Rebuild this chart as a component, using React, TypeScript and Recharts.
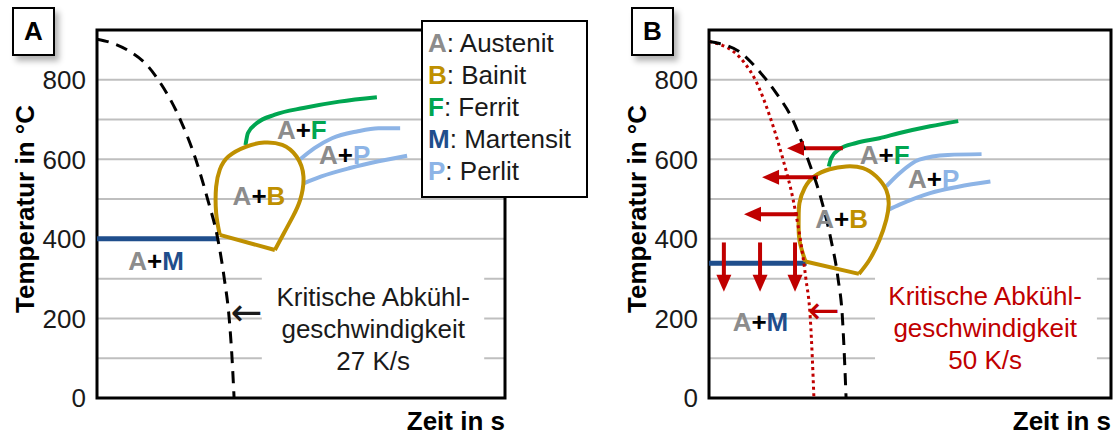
import React from 'react';
import {
  LineChart,
  Line,
  XAxis,
  YAxis,
  CartesianGrid,
  ReferenceArea,
  ReferenceDot,
  Label,
} from 'recharts';

const FONT = '"Liberation Sans", Arial, sans-serif';

// shared axis setup
const tempTicks = [0, 200, 400, 600, 800];
const gridTemps = [100, 200, 300, 400, 500, 600, 700, 800];
const tempMax = 925;
const timeMax = 100;

// phase colours
const phaseColors: Record<string, string> = {
  A: '#8c8c8c',
  B: '#bf9000',
  F: '#00a651',
  M: '#1f4e8c',
  P: '#8db4e6',
};
const legendItems = [
  { key: 'A', name: 'Austenit' },
  { key: 'B', name: 'Bainit' },
  { key: 'F', name: 'Ferrit' },
  { key: 'M', name: 'Martensit' },
  { key: 'P', name: 'Perlit' },
];

// ---------- panel A (27 K/s) ----------
const coolingA = [
  { x: 0, y: 902 }, { x: 3.5, y: 893 }, { x: 7.4, y: 875 }, { x: 12.4, y: 835 },
  { x: 15, y: 800 }, { x: 20.4, y: 700 }, { x: 24.2, y: 600 }, { x: 27.1, y: 500 },
  { x: 29.6, y: 400 }, { x: 31.2, y: 300 }, { x: 32.4, y: 200 }, { x: 33.1, y: 100 },
  { x: 33.6, y: 0 },
];
const bainiteA = [
  { x: 30.1, y: 410 }, { x: 29.2, y: 465 }, { x: 29.2, y: 531 }, { x: 30.1, y: 574 },
  { x: 32.2, y: 607 }, { x: 36.6, y: 632 }, { x: 41.0, y: 642 }, { x: 45.4, y: 636 },
  { x: 48.9, y: 607 }, { x: 50.6, y: 557 }, { x: 49.8, y: 498 }, { x: 48.0, y: 456 },
  { x: 45.8, y: 414 }, { x: 43.6, y: 372 },
];
const bainiteBaseA = [{ x: 43.6, y: 372 }, { x: 30.1, y: 410 }];
const ferriteA = [
  { x: 36.4, y: 636 }, { x: 37.0, y: 666 }, { x: 39.2, y: 691 }, { x: 43.6, y: 712 },
  { x: 50.6, y: 729 }, { x: 59.4, y: 745 }, { x: 68.6, y: 756 },
];
const pearliteStartA = [
  { x: 49.8, y: 600 }, { x: 53.3, y: 628 }, { x: 57.6, y: 653 }, { x: 63.7, y: 670 },
  { x: 69.0, y: 678 }, { x: 74.3, y: 678 },
];
const pearliteEndA = [
  { x: 50.8, y: 540 }, { x: 55.0, y: 557 }, { x: 62.0, y: 578 }, { x: 69.0, y: 595 },
  { x: 76.0, y: 609 },
];
const martensiteA = [{ x: 0, y: 400 }, { x: 29.6, y: 400 }];
const labelsA = [
  { x: 50.2, y: 674, phase: 'F' },
  { x: 60.7, y: 611, phase: 'P' },
  { x: 39.7, y: 508, phase: 'B' },
  { x: 14.5, y: 345, phase: 'M' },
];

// ---------- panel B (50 K/s) ----------
const coolingB = [
  { x: 0, y: 896 }, { x: 2.6, y: 891 }, { x: 7.6, y: 870 }, { x: 12.7, y: 819 },
  { x: 16.9, y: 764 }, { x: 20.8, y: 700 }, { x: 24.6, y: 600 }, { x: 27.9, y: 500 },
  { x: 30.3, y: 400 }, { x: 32.1, y: 300 }, { x: 33.2, y: 200 }, { x: 33.7, y: 100 },
  { x: 34.1, y: 0 },
];
const criticalB = [
  { x: 0, y: 896 }, { x: 3.4, y: 886 }, { x: 6.2, y: 870 }, { x: 9, y: 840 },
  { x: 11.5, y: 800 }, { x: 15.4, y: 700 }, { x: 18.4, y: 600 }, { x: 20.9, y: 500 },
  { x: 22.7, y: 400 }, { x: 24.1, y: 300 }, { x: 25.2, y: 200 }, { x: 25.7, y: 100 },
  { x: 26.1, y: 0 },
];
const bainiteB = [
  { x: 24.0, y: 343 }, { x: 22.5, y: 397 }, { x: 22.3, y: 448 }, { x: 22.5, y: 490 },
  { x: 23.8, y: 528 }, { x: 26.2, y: 557 }, { x: 30.0, y: 575 }, { x: 34.1, y: 582 },
  { x: 38.3, y: 578 }, { x: 41.6, y: 557 }, { x: 44.1, y: 523 }, { x: 44.7, y: 486 },
  { x: 44.1, y: 448 }, { x: 42.4, y: 397 }, { x: 39.9, y: 347 }, { x: 37.3, y: 312 },
];
const bainiteBaseB = [{ x: 37.3, y: 312 }, { x: 24.0, y: 343 }];
const ferriteB = [
  { x: 29.8, y: 582 }, { x: 30.4, y: 603 }, { x: 32.5, y: 626 }, { x: 36.6, y: 641 },
  { x: 42.4, y: 653 }, { x: 47.4, y: 666 }, { x: 55.0, y: 683 }, { x: 62.0, y: 696 },
];
const pearliteStartB = [
  { x: 44.1, y: 532 }, { x: 47.4, y: 565 }, { x: 52.3, y: 599 }, { x: 59.4, y: 611 },
  { x: 67.8, y: 613 },
];
const pearliteEndB = [
  { x: 44.6, y: 473 }, { x: 47.4, y: 486 }, { x: 55.0, y: 515 }, { x: 62.0, y: 531 },
  { x: 70.0, y: 544 },
];
const martensiteB = [{ x: 0, y: 339 }, { x: 24.3, y: 339 }];
const labelsB = [
  { x: 43.7, y: 611, phase: 'F' },
  { x: 55.9, y: 551, phase: 'P' },
  { x: 33.0, y: 450, phase: 'B' },
  { x: 12.8, y: 191, phase: 'M' },
];
// arrows: shift of the transformation lines at the higher rate
const leftArrowsB = [
  { y: 628, from: 33.3, to: 19.4 },
  { y: 555, from: 27.1, to: 13.2 },
  { y: 462, from: 22.1, to: 8.7 },
];
const downArrowsB = [
  { x: 3.7, from: 391, to: 267 },
  { x: 12.7, from: 391, to: 267 },
  { x: 21.4, from: 391, to: 267 },
];

const RED = '#c00000';

function Curve({ data, color, width = 4, dash, type = 'monotone' }: any) {
  return (
    <Line
      data={data}
      dataKey="y"
      type={type}
      stroke={color}
      strokeWidth={width}
      strokeDasharray={dash}
      dot={false}
      activeDot={false}
      isAnimationActive={false}
      strokeLinejoin="round"
    />
  );
}

function phaseLabel(l: { x: number; y: number; phase: string }, i: number) {
  return (
    <ReferenceDot
      key={'lbl' + i}
      x={l.x}
      y={l.y}
      r={0}
      ifOverflow="visible"
      shape={(p: any) => (
        <text
          x={p.cx}
          y={p.cy}
          textAnchor="middle"
          dominantBaseline="central"
          fontFamily={FONT}
          fontSize={26}
          fontWeight="bold"
        >
          <tspan fill={phaseColors.A}>A</tspan>
          <tspan fill="#000">+</tspan>
          <tspan fill={phaseColors[l.phase]}>{l.phase}</tspan>
        </text>
      )}
    />
  );
}

function Panel(props: any) {
  const {
    left, width, margin, cooling, critical, bainite, bainiteBase, ferrite,
    pearliteStart, pearliteEnd, martensite, labels, textBox, textAt, textLines,
    textColor, pointerAt, leftArrows = [], downArrows = [],
  } = props;
  return (
    <div style={{ position: 'absolute', left, top: 0 }}>
      <LineChart width={width} height={436} margin={margin}>
        <CartesianGrid
          horizontal
          vertical={false}
          horizontalValues={gridTemps}
          stroke="#bfbfbf"
          strokeWidth={2}
        />
        <XAxis
          type="number"
          dataKey="x"
          domain={[0, timeMax]}
          allowDataOverflow
          height={38}
          tick={false}
          tickLine={false}
          axisLine={false}
        >
          <Label
            content={(p: any) => {
              const vb = p.viewBox;
              return (
                <text
                  x={vb.x + vb.width}
                  y={vb.y + 32}
                  textAnchor="end"
                  fontFamily={FONT}
                  fontSize={26}
                  fontWeight="bold"
                  fill="#000"
                >
                  Zeit in s
                </text>
              );
            }}
          />
        </XAxis>
        <YAxis
          type="number"
          domain={[0, tempMax]}
          ticks={tempTicks}
          allowDataOverflow
          width={60}
          tickSize={0}
          tickMargin={11}
          tickLine={false}
          axisLine={false}
          tick={{ fontSize: 26, fill: '#1a1a1a', fontFamily: FONT }}
        >
          <Label
            content={(p: any) => {
              const vb = p.viewBox;
              const cx = vb.x - 12;
              const cy = vb.y + vb.height / 2 - 5;
              return (
                <text
                  x={cx}
                  y={cy}
                  transform={`rotate(-90 ${cx} ${cy})`}
                  textAnchor="middle"
                  dominantBaseline="central"
                  fontFamily={FONT}
                  fontSize={26}
                  fontWeight="bold"
                  fill="#000"
                >
                  Temperatur in °C
                </text>
              );
            }}
          />
        </YAxis>

        <ReferenceArea
          x1={textBox.x1}
          x2={textBox.x2}
          y1={textBox.y1}
          y2={textBox.y2}
          fill="#fff"
          fillOpacity={1}
          stroke="none"
        />

        <Curve data={martensite} color={phaseColors.M} width={5} type="linear" />
        <Curve data={ferrite} color={phaseColors.F} />
        <Curve data={pearliteStart} color={phaseColors.P} />
        <Curve data={pearliteEnd} color={phaseColors.P} />
        <Curve data={bainite} color={phaseColors.B} type="natural" />
        <Curve data={bainiteBase} color={phaseColors.B} type="linear" />
        {leftArrows.map((a: any, i: number) => (
          <Curve
            key={'la' + i}
            data={[{ x: a.from, y: a.y }, { x: a.to + 2.5, y: a.y }]}
            color={RED}
            type="linear"
          />
        ))}
        {downArrows.map((a: any, i: number) => (
          <Curve
            key={'da' + i}
            data={[{ x: a.x, y: a.from }, { x: a.x, y: a.to + 25 }]}
            color={RED}
            type="linear"
          />
        ))}
        {critical && <Curve data={critical} color={RED} width={3} dash="3 3.5" />}
        <Curve data={cooling} color="#000" width={3} dash="12 8" />

        {leftArrows.map((a: any, i: number) => (
          <ReferenceDot
            key={'lah' + i}
            x={a.to}
            y={a.y}
            r={0}
            shape={(p: any) => (
              <polygon
                points={`${p.cx},${p.cy} ${p.cx + 17},${p.cy - 7.5} ${p.cx + 17},${p.cy + 7.5}`}
                fill={RED}
              />
            )}
          />
        ))}
        {downArrows.map((a: any, i: number) => (
          <ReferenceDot
            key={'dah' + i}
            x={a.x}
            y={a.to}
            r={0}
            shape={(p: any) => (
              <polygon
                points={`${p.cx},${p.cy} ${p.cx - 7.5},${p.cy - 17} ${p.cx + 7.5},${p.cy - 17}`}
                fill={RED}
              />
            )}
          />
        ))}

        {labels.map(phaseLabel)}

        <ReferenceDot
          x={textAt.x}
          y={textAt.y}
          r={0}
          shape={(p: any) => (
            <text
              x={p.cx}
              y={p.cy}
              textAnchor="middle"
              fontFamily={FONT}
              fontSize={26}
              fill={textColor}
            >
              {textLines.map((t: string, i: number) => (
                <tspan key={i} x={p.cx} dy={i === 0 ? 0 : 32}>
                  {t}
                </tspan>
              ))}
            </text>
          )}
        />
        <ReferenceDot
          x={pointerAt.x}
          y={pointerAt.y}
          r={0}
          shape={(p: any) => (
            <text
              x={p.cx}
              y={p.cy}
              textAnchor="middle"
              dominantBaseline="central"
              fontFamily='"DejaVu Sans", sans-serif'
              fontSize={38}
              fill={textColor}
            >
              ←
            </text>
          )}
        />

        <ReferenceArea
          x1={0}
          x2={timeMax}
          y1={0}
          y2={tempMax}
          fill="none"
          stroke="#000"
          strokeWidth={3}
          ifOverflow="visible"
        />
      </LineChart>
    </div>
  );
}

function PanelTag({ left, text }: { left: number; text: string }) {
  return (
    <div
      style={{
        position: 'absolute',
        left,
        top: 7,
        width: 43,
        height: 49,
        boxSizing: 'border-box',
        border: '2px solid #000',
        background: '#fff',
        boxShadow: '4px 5px 6px rgba(0,0,0,0.3)',
        fontFamily: FONT,
        fontWeight: 'bold',
        fontSize: 26,
        lineHeight: '45px',
        textAlign: 'center',
      }}
    >
      {text}
    </div>
  );
}

export default function App() {
  return (
    <div
      style={{
        position: 'absolute',
        left: 0,
        top: 0,
        width: 1116,
        height: 436,
        background: '#fff',
        overflow: 'hidden',
      }}
    >
      <Panel
        left={0}
        width={560}
        margin={{ top: 30, right: 55, bottom: 0, left: 37 }}
        cooling={coolingA}
        bainite={bainiteA}
        bainiteBase={bainiteBaseA}
        ferrite={ferriteA}
        pearliteStart={pearliteStartA}
        pearliteEnd={pearliteEndA}
        martensite={martensiteA}
        labels={labelsA}
        textBox={{ x1: 40.4, x2: 94.9, y1: 20, y2: 320 }}
        textAt={{ x: 67.7, y: 231 }}
        textLines={['Kritische Abkühl-', 'geschwindigkeit', '27 K/s']}
        textColor="#1a1a1a"
        pointerAt={{ x: 36.6, y: 217 }}
      />
      <Panel
        left={560}
        width={556}
        margin={{ top: 30, right: 5, bottom: 0, left: 89 }}
        cooling={coolingB}
        critical={criticalB}
        bainite={bainiteB}
        bainiteBase={bainiteBaseB}
        ferrite={ferriteB}
        pearliteStart={pearliteStartB}
        pearliteEnd={pearliteEndB}
        martensite={martensiteB}
        labels={labelsB}
        textBox={{ x1: 41.3, x2: 96.5, y1: 20, y2: 320 }}
        textAt={{ x: 68.7, y: 234 }}
        textLines={['Kritische Abkühl-', 'geschwindigkeit', '50 K/s']}
        textColor={RED}
        pointerAt={{ x: 28.5, y: 221 }}
        leftArrows={leftArrowsB}
        downArrows={downArrowsB}
      />
      <PanelTag left={12} text="A" />
      <PanelTag left={631} text="B" />
      <div
        style={{
          position: 'absolute',
          left: 421,
          top: 20,
          width: 167,
          height: 178,
          boxSizing: 'border-box',
          border: '2px solid #000',
          background: '#fff',
          padding: '5px 0 0 5px',
          fontFamily: FONT,
          fontSize: 26,
          lineHeight: '32px',
          color: '#1a1a1a',
        }}
      >
        {legendItems.map((it) => (
          <div key={it.key}>
            <span style={{ color: phaseColors[it.key], fontWeight: 'bold' }}>{it.key}</span>: {it.name}
          </div>
        ))}
      </div>
    </div>
  );
}
